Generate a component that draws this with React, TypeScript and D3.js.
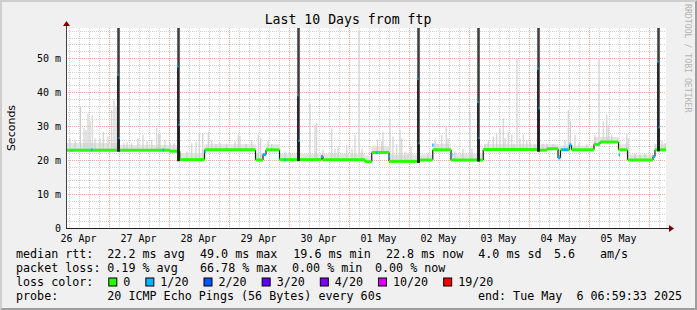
import React from "react";
import * as d3 from "d3";

// ---- time window (UTC) ----
const END = Date.UTC(2025, 4, 6, 6, 59, 33);
const HOUR = 3600000;
const START = END - 240 * HOUR;

// ---- median rtt (ms), step series: hours after window start ----
const medianHours = [0, 41.6, 45.5, 55.4, 75.8, 78.8, 80.0, 85.4, 102.2, 102.8, 119.6, 122.3, 129.2, 141.5, 146.7, 154.0, 166.9, 189.5, 192.4, 196.8, 197.8, 198.4, 200.8, 201.4, 202.2, 211.2, 213.6, 221.0, 224.6, 234.8, 235.6];
const medianMs = [22.9, 22.6, 20.1, 23.0, 20.0, 21.6, 23.0, 20.1, 21.0, 20.1, 19.5, 22.2, 19.6, 20.0, 23.0, 20.0, 23.1, 22.9, 23.3, 20.6, 23.0, 23.0, 23.0, 24.4, 23.0, 24.6, 25.3, 23.0, 20.0, 21.0, 23.0];
const medianLoss = [0, 0, 0, 0, 0, 1, 0, 0, 1, 0, 0, 0, 0, 0, 0, 0, 0, 0, 0, 1, 0, 1, 0, 1, 0, 0, 0, 0, 0, 1, 0];

// ---- daily latency spikes ----
const spikeHours = [20.5, 44.5, 92.5, 140.5, 164.5, 188.5, 236.5];
const spikeMedianHigh = [45.0, 47.5, 39.0, 43.8, 37.0, 46.8, 48.9];
const spikeMedianLow = [26.4, 30.3, 25.6, 24.9, 26.4, 35.2, 29.6];
const spikeMaxMs = [70, 70, 70, 70, 70, 70, 70];

// ---- light smoke: dense band just above median ----
const hazeHours = [0, 20.5, 45.5, 55.4, 75.8, 80.0, 85.4, 119.6, 122.3, 129.2, 146.7, 154.0, 166.9, 189.5, 196.8, 211.2, 221.0, 224.6, 235.6];
const hazeTopMs = [25.0, 24.4, 22.0, 24.6, 22.0, 24.6, 21.8, 21.3, 24.2, 21.6, 24.8, 21.8, 24.6, 24.6, 24.3, 26.8, 24.6, 21.6, 24.6];

// ---- light smoke: individual max-ping streaks ----
const smokeHours = [1.6, 3.6, 5.8, 7.2, 8.0, 8.8, 9.6, 10.5, 11.6, 13.6, 14.9, 16.8, 18.3, 19.2, 20.0, 23.2, 24.4, 26.3, 28.8, 30.8, 32.4, 34.3, 36.3, 37.1, 37.6, 39.6, 41.6, 43.2,
  48.4, 50.3, 52.0, 53.3, 54.7, 56.9, 58.3, 60.0, 61.6, 64.3, 67.6, 68.9, 69.6, 72.0, 74.3, 76.9, 77.9, 80.8, 82.3, 87.6, 89.6,
  97.6, 99.6, 100.3, 102.8, 106.3, 107.6, 108.8, 112.3, 114.4, 115.6, 117.2, 118.4, 124.6, 126.3, 126.8, 129.6, 130.8, 132.3, 133.6, 134.3, 135.6, 136.8, 138.0,
  144.8, 147.6, 148.8, 150.3, 152.1, 152.8, 155.6, 158.8, 161.6, 162.4, 167.6, 168.9, 170.9, 172.3, 173.6, 174.9, 175.6, 176.9, 178.3, 179.2, 180.4, 181.6, 182.9, 184.3, 185.6, 187.6,
  190.8, 192.4, 194.8, 199.6, 200.9, 201.8, 203.6, 205.2, 208.3, 211.6, 213.2, 214.9, 216.3, 216.9, 218.3, 219.6, 224.3, 224.9, 227.6, 229.6, 231.6, 233.6, 235.6, 238.4, 239.6];
const smokeTopMs = [26.4, 25.9, 35.7, 29.4, 28.8, 33.7, 31.3, 33.2, 26.4, 26.4, 28.3, 26.9, 34.7, 37.5, 35.7, 25.0, 25.2, 24.9, 26.4, 27.4, 25.5, 25.9, 29.4, 27.8, 27.5, 26.0, 25.0, 25.0,
  22.5, 24.9, 25.4, 27.8, 27.8, 28.3, 25.9, 24.6, 25.0, 24.6, 25.5, 27.4, 26.9, 24.6, 25.9, 27.4, 26.4, 25.5, 24.6, 22.5, 22.0,
  36.7, 30.3, 30.8, 23.0, 29.3, 23.4, 24.0, 24.4, 23.4, 27.4, 58.0, 23.4, 25.9, 25.5, 28.3, 32.0, 26.9, 24.6, 28.8, 26.4, 22.5, 22.0, 24.0,
  22.0, 26.0, 24.6, 27.4, 29.8, 26.4, 22.6, 23.4, 34.2, 23.4, 24.6, 25.5, 26.9, 27.8, 29.3, 32.3, 26.4, 28.3, 27.4, 24.6, 50.0, 26.4, 27.4, 25.9, 25.5, 24.6,
  24.8, 24.6, 24.6, 25.9, 34.7, 31.3, 27.4, 25.0, 24.6, 27.4, 50.0, 31.3, 33.2, 30.3, 27.4, 25.5, 27.8, 26.4, 21.8, 21.5, 21.8, 21.3, 24.6, 25.5, 25.0];

// ---- single-interval loss marks (1/20) ----
const lossBlipHours = [10.3, 38.9, 55.6, 79.6, 87.6, 102.3, 124.3, 129.3, 146.7, 154.3, 197.2, 201.6, 221.3, 234.9];
const lossBlipMs = [23.0, 23.0, 22.4, 21.6, 20.0, 21.0, 22.1, 21.0, 24.4, 21.5, 21.0, 24.4, 21.5, 21.0];

// ---- axis ----
const yTicksMs = [0, 10, 20, 30, 40, 50];
const yMaxMs = 58.82;

// ---- legend ----
const rttLabel = "median rtt:";
const rttStats = ["22.2 ms avg", "49.0 ms max", "19.6 ms min", "22.8 ms now", "4.0 ms sd", "5.6", "am/s"];
const lossLabel = "packet loss:";
const lossStats = ["0.19 % avg", "66.78 % max", "0.00 % min", "0.00 % now"];
const lossColorLabel = "loss color:";
const lossBuckets = ["0", "1/20", "2/20", "3/20", "4/20", "10/20", "19/20"];
const lossColors = ["#26ff00", "#00b8ff", "#0059ff", "#5e00ff", "#7e00ff", "#dd00ff", "#ff0000"];
const probeLabel = "probe:";
const probeText = "20 ICMP Echo Pings (56 Bytes) every 60s";
const endText = "end: Tue May  6 06:59:33 2025";
const title = "Last 10 Days from ftp";

const MONO = "'DejaVu Sans Mono', monospace";

export default function App() {
  const W = 697, HH = 310;
  const L = 66, R = 666, T = 28, B = 228;
  const x = d3.scaleUtc().domain([new Date(START), new Date(END)]).range([L, R]);
  const y = d3.scaleLinear().domain([0, yMaxMs]).range([B, T]);
  const hx = (h: number) => x(new Date(START + h * HOUR));

  const medianAt = (h: number) => {
    const i = Math.max(0, d3.bisectRight(medianHours, h) - 1);
    return medianMs[i];
  };
  const hazeAt = (h: number) => {
    const i = Math.max(0, d3.bisectRight(hazeHours, h) - 1);
    return hazeTopMs[i];
  };

  // grid
  const minorY = d3.range(2, yMaxMs, 2).filter((v) => v % 10 !== 0);
  const majorY = d3.range(10, yMaxMs, 10);
  const minorX = d3.utcHour.every(4)!.range(new Date(START), new Date(END)).filter((d) => d.getUTCHours() !== 0);
  const majorX = d3.utcDay.range(new Date(START), new Date(END));
  const labelDays = d3.utcDay.range(new Date(START - 86400000), new Date(END)).map((d) => new Date(+d + 12 * HOUR)).filter((d) => +d >= START && +d <= END);
  const fmt = d3.utcFormat("%d %b");

  // haze area (sampled per pixel-width interval)
  const samples = d3.range(0, 240.001, 0.4);
  const hazeArea = d3.area<number>()
    .x((h) => hx(h))
    .y0((h) => y(medianAt(h)))
    .y1((h) => y(Math.max(hazeAt(h), medianAt(h))))
    .curve(d3.curveStepAfter)(samples) || "";

  // median pieces, cut by spike windows
  type Piece = { a: number; b: number; v: number; loss: number };
  const pieces: Piece[] = [];
  medianHours.forEach((s, i) => {
    const e = i + 1 < medianHours.length ? medianHours[i + 1] : 240;
    let segs: [number, number][] = [[s, e]];
    spikeHours.forEach((sh) => {
      const sa = sh, sb = sh + 1;
      const next: [number, number][] = [];
      segs.forEach(([a, b]) => {
        if (sb <= a || sa >= b) next.push([a, b]);
        else {
          if (sa > a) next.push([a, sa]);
          if (sb < b) next.push([sb, b]);
        }
      });
      segs = next;
    });
    segs.forEach(([a, b]) => pieces.push({ a, b, v: medianMs[i], loss: medianLoss[i] }));
  });

  const cw = 7.04;
  const legendFs = 11.7;
  const line1X = [107.3, 200, 293.3, 386, 478.3, 554, 600];
  const line2X = [107.3, 200, 292, 375];

  // loss color boxes layout
  let bx = 108.3;
  const boxes = lossBuckets.map((lab, i) => {
    const item = { x: bx, lab, color: lossColors[i] };
    bx += 15 + lab.length * cw + 15;
    return item;
  });

  return (
    <svg width={W} height={HH} style={{ position: "absolute", left: 0, top: 0 }} xmlns="http://www.w3.org/2000/svg">
      <defs>
        <clipPath id="plot">
          <rect x={L} y={T} width={R - L} height={B - T} />
        </clipPath>
      </defs>
      {/* background and frame */}
      <rect x={0} y={0} width={W} height={HH} fill="#f0f0f0" />
      <path d={`M0,0 H${W} L${W - 2},2 H2 V${HH - 2} L0,${HH} Z`} fill="#cfcfcf" />
      <path d={`M${W},0 V${HH} H0 L2,${HH - 2} H${W - 2} V2 Z`} fill="#9e9e9e" />
      <rect x={L} y={T} width={R - L} height={B - T} fill="#ffffff" />

      {/* grid */}
      <g strokeWidth={1} shapeRendering="crispEdges">
        {minorY.map((v) => (
          <line key={"my" + v} x1={L} x2={R} y1={Math.round(y(v)) + 0.5} y2={Math.round(y(v)) + 0.5} stroke="#d2d2d2" strokeDasharray="1,1" />
        ))}
        {minorX.map((d) => (
          <line key={"mx" + +d} x1={Math.round(x(d)) + 0.5} x2={Math.round(x(d)) + 0.5} y1={T} y2={B} stroke="#d2d2d2" strokeDasharray="1,1" />
        ))}
        {majorY.map((v) => (
          <line key={"My" + v} x1={L} x2={R} y1={Math.round(y(v)) + 0.5} y2={Math.round(y(v)) + 0.5} stroke="#f4a4a4" strokeDasharray="1,1" />
        ))}
        {majorX.map((d) => (
          <line key={"Mx" + +d} x1={Math.round(x(d)) + 0.5} x2={Math.round(x(d)) + 0.5} y1={T} y2={B} stroke="#f4a4a4" strokeDasharray="1,1" />
        ))}
      </g>

      <g clipPath="url(#plot)">
        {/* smoke */}
        <path d={hazeArea} fill="#e3e3e3" />
        {smokeHours.map((h, i) => (
          <line key={"s" + i} x1={hx(h)} x2={hx(h)} y1={y(medianAt(h))} y2={y(smokeTopMs[i])}
            stroke={smokeTopMs[i] > 45 ? "#dadada" : "#cdcdcd"} strokeWidth={smokeTopMs[i] > 45 ? 1.6 : 1.1} />
        ))}

        {/* median step connectors */}
        {medianHours.slice(1).map((h, j) => (
          <line key={"c" + j} x1={hx(h)} x2={hx(h)} y1={y(medianMs[j])} y2={y(medianMs[j + 1])} stroke="#1e1e1e" strokeWidth={1.2} />
        ))}
        {/* median line */}
        {pieces.map((p, i) => (
          <line key={"p" + i} x1={hx(p.a)} x2={hx(p.b)} y1={y(p.v)} y2={y(p.v)} stroke={lossColors[p.loss]} strokeWidth={3} />
        ))}
        {lossBlipHours.map((h, i) => (
          <rect key={"b" + i} x={hx(h) - 0.6} y={y(lossBlipMs[i]) - 1.5} width={1.3} height={3} fill={lossColors[1]} />
        ))}

        {/* spikes */}
        {spikeHours.map((sh, i) => {
          const x1 = hx(sh), x2 = hx(sh + 1), xm = hx(sh + 0.5);
          const base = Math.min(medianAt(sh - 0.01), medianAt(sh + 1.01));
          return (
            <g key={"k" + i}>
              <rect x={x1} y={y(spikeMaxMs[i])} width={x2 - x1} height={y(base) - y(spikeMaxMs[i]) + 1.5} fill="#3d3d3d" />
              <rect x={x1} y={y(spikeMedianHigh[i])} width={xm - x1} height={y(base) - y(spikeMedianHigh[i]) + 1.5} fill="#161616" />
              <rect x={xm} y={y(spikeMedianLow[i])} width={x2 - xm} height={y(base) - y(spikeMedianLow[i]) + 1.5} fill="#161616" />
              <rect x={x1} y={y(spikeMedianHigh[i]) - 1} width={xm - x1} height={2} fill={lossColors[1]} />
              <rect x={xm} y={y(spikeMedianLow[i]) - 1} width={x2 - xm} height={2} fill={lossColors[1]} />
            </g>
          );
        })}
      </g>

      {/* axes */}
      <line x1={L + 0.5} x2={L + 0.5} y1={B} y2={24} stroke="#404040" strokeWidth={1} />
      <line x1={L} x2={670} y1={B + 0.5} y2={B + 0.5} stroke="#202020" strokeWidth={1} />
      <path d={`M${L - 3},26 L${L + 4},26 L${L + 0.5},21 Z`} fill="#7f0000" />
      <path d={`M669,${B - 3} L669,${B + 4} L674,${B + 0.5} Z`} fill="#7f0000" />

      {/* y tick labels */}
      <g fontFamily={MONO} fontSize={10} fill="#000" textAnchor="end">
        {yTicksMs.map((v) => (
          <text key={"yt" + v} x={61} y={y(v) + 3.6}>{v === 0 ? "0" : `${v} m`}</text>
        ))}
      </g>
      {/* x tick labels */}
      <g fontFamily={MONO} fontSize={10} fill="#000" textAnchor="middle">
        {labelDays.map((d) => (
          <text key={"xt" + +d} x={x(d)} y={241.5}>{fmt(d)}</text>
        ))}
      </g>

      {/* title & labels */}
      <text x={348} y={24} fontFamily={MONO} fontSize={13.2} textAnchor="middle" fill="#000">{title}</text>
      <text transform={`translate(15,128) rotate(-90)`} fontFamily="'DejaVu Sans', sans-serif" fontSize={11} textAnchor="middle" fill="#000">Seconds</text>
      <text transform={`translate(685,4) rotate(90)`} fontFamily={MONO} fontSize={8.2} fill="#b4b4b4">RRDTOOL / TOBI OETIKER</text>

      {/* legend */}
      <g fontFamily={MONO} fontSize={legendFs} fill="#000" style={{ whiteSpace: "pre" }}>
        <text x={16} y={258}>{rttLabel}</text>
        {rttStats.map((s, i) => (
          <text key={"r" + i} x={line1X[i]} y={258}>{s}</text>
        ))}
        <text x={16} y={272}>{lossLabel}</text>
        {lossStats.map((s, i) => (
          <text key={"l" + i} x={line2X[i]} y={272}>{s}</text>
        ))}
        <text x={16} y={286}>{lossColorLabel}</text>
        {boxes.map((b, i) => (
          <g key={"bx" + i}>
            <rect x={b.x + 0.5} y={278} width={8} height={8} fill={b.color} stroke="#000" strokeWidth={1} />
            <text x={b.x + 15} y={286}>{b.lab}</text>
          </g>
        ))}
        <text x={16} y={300}>{probeLabel}</text>
        <text x={107.3} y={300}>{probeText}</text>
        <text x={682} y={300} textAnchor="end" xmlSpace="preserve">{endText}</text>
      </g>
    </svg>
  );
}
